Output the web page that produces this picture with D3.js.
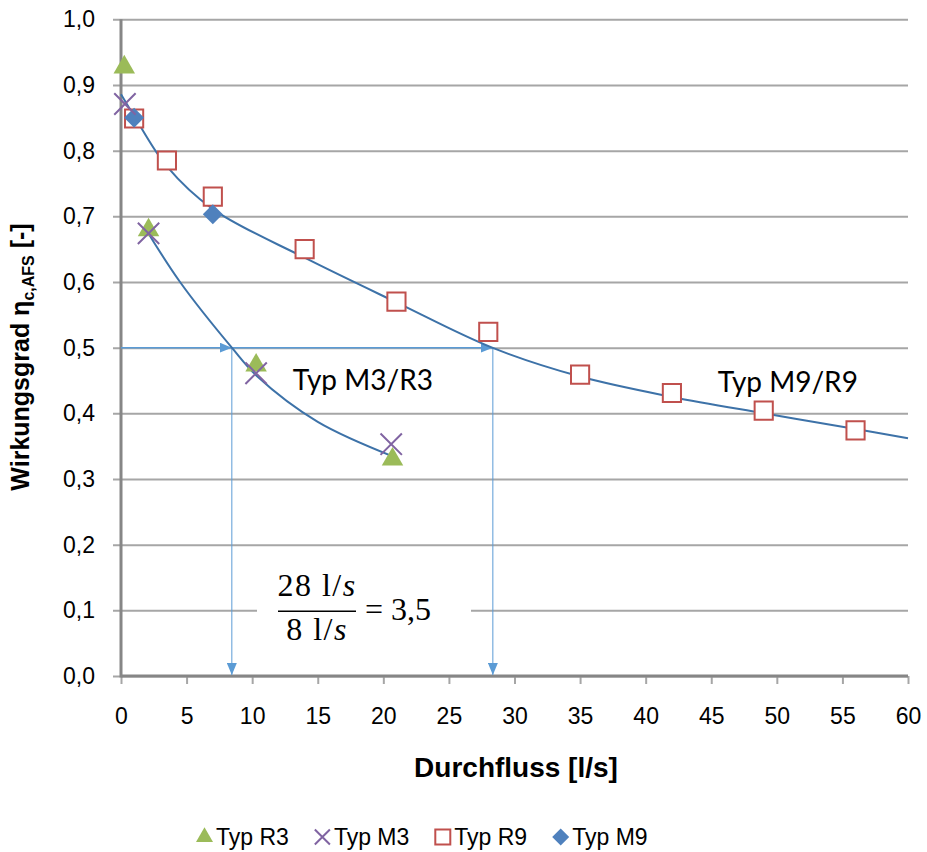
<html>
<head>
<script src="https://d3js.org/d3.v7.min.js"></script>
<style>
  body { margin: 0; background: #fff; }
  text { font-family: "Liberation Sans", Arial, sans-serif; fill: #000; }
</style>
</head>
<body>
<svg width="927" height="852"></svg>
<script>
// measured values
const r3x = [0.25, 2.1, 10.3, 20.7], r3y = [0.93, 0.682, 0.476, 0.333];
const m3x = [0.3, 2.1, 10.3, 20.6], m3y = [0.871, 0.674, 0.461, 0.353];
const r9x = [1, 3.5, 7, 14, 21, 28, 35, 42, 49, 56];
const r9y = [0.849, 0.785, 0.730, 0.650, 0.570, 0.524, 0.459, 0.431, 0.404, 0.374];
const m9x = [1, 7], m9y = [0.85, 0.703];

// trend lines
const trend3x = [2.0, 4.5, 8.45, 10.4, 15, 20.9];
const trend3y = [0.677, 0.600, 0.500, 0.456, 0.387, 0.333];
const trend9x = [0, 1, 3.5, 7, 14, 21, 28.3, 35, 42, 49, 56, 60];
const trend9y = [0.886, 0.853, 0.776, 0.711, 0.637, 0.569, 0.500, 0.456, 0.425, 0.400, 0.376, 0.362];

const xTicks = [0, 5, 10, 15, 20, 25, 30, 35, 40, 45, 50, 55, 60];
const yTicks = [0, 0.1, 0.2, 0.3, 0.4, 0.5, 0.6, 0.7, 0.8, 0.9, 1.0];

const readX = [8.45, 28.35], readY = 0.5;
const curveLabels = [["Typ M3/R3", 13.1, 0.436], ["Typ M9/R9", 45.5, 0.432]];
const legendNames = ["Typ R3", "Typ M3", "Typ R9", "Typ M9"];

const svg = d3.select("svg");
const x = d3.scaleLinear().domain([0, 60]).range([121, 908]);
const y = d3.scaleLinear().domain([0, 1]).range([676, 19.3]);
const fmt = d3.format(".1f");

svg.append("defs").html(`
  <marker id="arr" viewBox="0 0 12 10" refX="12" refY="5" markerWidth="12" markerHeight="10"
    markerUnits="userSpaceOnUse" orient="auto">
    <path d="M0,0 L12,5 L0,10 Z" fill="#5b9bd5"></path>
  </marker>`);

// gridlines + y axis labels
const ya = svg.append("g")
  .attr("transform", `translate(${x(0)},0)`)
  .call(d3.axisLeft(y).tickValues(yTicks).tickFormat(d => fmt(d).replace(".", ",")).tickSizeOuter(0).tickPadding(20));
ya.select(".domain").remove();
ya.selectAll(".tick line").attr("x1", -8).attr("x2", x(60) - x(0)).attr("stroke", "#a6a6a6").attr("stroke-width", 2);
ya.selectAll(".tick text").attr("font-size", 23).attr("font-family", "Liberation Sans, Arial").attr("fill", "#000");

// x axis
const xa = svg.append("g")
  .attr("transform", `translate(0,${y(0)})`)
  .call(d3.axisBottom(x).tickValues(xTicks).tickSizeInner(8).tickSizeOuter(0).tickPadding(24));
xa.select(".domain").remove();
xa.selectAll(".tick line").attr("stroke", "#a6a6a6").attr("stroke-width", 2);
xa.selectAll(".tick text").attr("font-size", 23).attr("font-family", "Liberation Sans, Arial").attr("fill", "#000");

// axis lines
svg.append("line").attr("x1", x(0)).attr("x2", x(60)).attr("y1", y(0)).attr("y2", y(0))
  .attr("stroke", "#868686").attr("stroke-width", 3);
svg.append("line").attr("x1", x(0)).attr("x2", x(0)).attr("y1", y(0) + 1.5).attr("y2", y(1))
  .attr("stroke", "#868686").attr("stroke-width", 3);

// reading lines
const blue = "#5b9bd5";
svg.append("line").attr("x1", x(0)).attr("x2", x(readX[0])).attr("y1", y(readY)).attr("y2", y(readY))
  .attr("stroke", blue).attr("stroke-width", 1.5).attr("marker-end", "url(#arr)");
svg.append("line").attr("x1", x(readX[0])).attr("x2", x(readX[1])).attr("y1", y(readY)).attr("y2", y(readY))
  .attr("stroke", blue).attr("stroke-width", 1.5).attr("marker-end", "url(#arr)");
readX.forEach(v => {
  svg.append("line").attr("x1", x(v)).attr("x2", x(v)).attr("y1", y(readY)).attr("y2", y(0) - 1)
    .attr("stroke", blue).attr("stroke-width", 1).attr("marker-end", "url(#arr)");
});

// trend lines
const line = d3.line().x(d => x(d[0])).y(d => y(d[1])).curve(d3.curveCatmullRom.alpha(0.5));
svg.append("path").datum(d3.zip(trend3x, trend3y)).attr("d", line)
  .attr("fill", "none").attr("stroke", "#3d72a8").attr("stroke-width", 2);
svg.append("path").datum(d3.zip(trend9x, trend9y)).attr("d", line)
  .attr("fill", "none").attr("stroke", "#3d72a8").attr("stroke-width", 2);

// markers
const tri = d3.symbol(d3.symbolTriangle, 200), tri2 = d3.symbol(d3.symbolTriangle, 125);
const sq = d3.symbol(d3.symbolSquare, 330), sq2 = d3.symbol(d3.symbolSquare, 225);
const dia = d3.symbol(d3.symbolSquare, 200), dia2 = d3.symbol(d3.symbolSquare, 145);
const times = d3.symbol(d3.symbolTimes, 300), times2 = d3.symbol(d3.symbolTimes, 150);

function drawTri(g, px, py, s) {
  g.append("path").attr("d", s()).attr("transform", `translate(${px},${py + 2})`).attr("fill", "#9bbb59");
}
function drawTimes(g, px, py, s) {
  g.append("path").attr("d", s()).attr("transform", `translate(${px},${py})`)
    .attr("fill", "none").attr("stroke", "#8064a2").attr("stroke-width", 2);
}
function drawSq(g, px, py, s) {
  g.append("path").attr("d", s()).attr("transform", `translate(${px},${py})`)
    .attr("fill", "#fff").attr("stroke", "#c0504d").attr("stroke-width", 2);
}
function drawDia(g, px, py, s) {
  g.append("path").attr("d", s()).attr("transform", `translate(${px},${py}) rotate(45)`).attr("fill", "#4f81bd");
}

const pts = svg.append("g");
r3x.forEach((v, i) => drawTri(pts, x(v), y(r3y[i]), tri));
r9x.forEach((v, i) => drawSq(pts, x(v), y(r9y[i]), sq));
m9x.forEach((v, i) => drawDia(pts, x(v), y(m9y[i]), dia));
m3x.forEach((v, i) => drawTimes(pts, x(v), y(m3y[i]), times));

// curve labels
curveLabels.forEach(([t, lx, ly]) => {
  svg.append("text").attr("x", x(lx)).attr("y", y(ly)).text(t)
    .style("font-family", "Lato, sans-serif").attr("font-size", 28);
});

// formula
const fx = 317, fy = y(0.1);
svg.append("rect").attr("x", 257).attr("y", fy - 6).attr("width", 214).attr("height", 12).attr("fill", "#fff");
const serif = "Liberation Serif, serif";
const num = svg.append("text").attr("x", fx).attr("y", fy - 14).attr("text-anchor", "middle")
  .style("font-family", serif).attr("font-size", 32).attr("letter-spacing", 1.5);
num.append("tspan").text("28 l/");
num.append("tspan").text("s").attr("font-style", "italic");
const den = svg.append("text").attr("x", fx).attr("y", fy + 30).attr("text-anchor", "middle")
  .style("font-family", serif).attr("font-size", 32).attr("letter-spacing", 1.5);
den.append("tspan").text("8 l/");
den.append("tspan").text("s").attr("font-style", "italic");
svg.append("line").attr("x1", 278).attr("x2", 356).attr("y1", fy + 1).attr("y2", fy + 1)
  .attr("stroke", "#000").attr("stroke-width", 1.5);
svg.append("text").attr("x", 365).attr("y", fy + 10).text("= 3,5")
  .style("font-family", serif).attr("font-size", 32).attr("xml:space", "preserve");

// axis titles
svg.append("text").attr("x", 516).attr("y", 777).attr("text-anchor", "middle")
  .attr("font-weight", "bold").attr("font-size", 28).text("Durchfluss [l/s]");
const yt = svg.append("text").attr("transform", "translate(29,357) rotate(-90)").attr("text-anchor", "middle")
  .attr("font-weight", "bold").attr("font-size", 25);
yt.append("tspan").text("Wirkungsgrad η");
yt.append("tspan").text("c,AFS").attr("font-size", 16).attr("dy", 5);
yt.append("tspan").text(" [-]").attr("dy", -5);

// legend
const leg = svg.append("g");
let lx = 196;
const ly = 845;
legendNames.forEach((name, i) => {
  const cx = lx + 8.5, cy = ly - 8;
  if (i == 0) drawTri(leg, cx, cy - 2, tri2);
  if (i == 1) drawTimes(leg, cx, cy, times2);
  if (i == 2) drawSq(leg, cx, cy, sq2);
  if (i == 3) drawDia(leg, cx, cy, dia2);
  const t = leg.append("text").attr("x", lx + 20).attr("y", ly).attr("font-size", 23).text(name);
  lx += 20 + t.node().getComputedTextLength() + 25;
});
</script>
</body>
</html>
